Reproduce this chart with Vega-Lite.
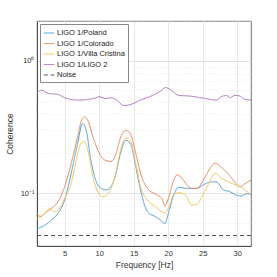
{
  "$schema": "https://vega.github.io/schema/vega-lite/v6.json",
  "autosize": {"type": "none"},
  "width": 214,
  "height": 225,
  "padding": {"left": 37, "top": 21, "right": 26, "bottom": 31},
  "background": "white",
  "config": {
    "view": {"stroke": "#4d4d4d", "strokeWidth": 0.8},
    "font": "Liberation Sans"
  },
  "data": {
    "values": [
      {"s": "LIGO 1/Poland", "f": 1.0, "v": 0.054},
      {"s": "LIGO 1/Poland", "f": 2.13, "v": 0.0574},
      {"s": "LIGO 1/Poland", "f": 3.08, "v": 0.0627},
      {"s": "LIGO 1/Poland", "f": 4.04, "v": 0.0705},
      {"s": "LIGO 1/Poland", "f": 5.0, "v": 0.089},
      {"s": "LIGO 1/Poland", "f": 5.96, "v": 0.142},
      {"s": "LIGO 1/Poland", "f": 6.9, "v": 0.24},
      {"s": "LIGO 1/Poland", "f": 7.6, "v": 0.336},
      {"s": "LIGO 1/Poland", "f": 8.1, "v": 0.303},
      {"s": "LIGO 1/Poland", "f": 8.8, "v": 0.179},
      {"s": "LIGO 1/Poland", "f": 9.5, "v": 0.126},
      {"s": "LIGO 1/Poland", "f": 10.3, "v": 0.109},
      {"s": "LIGO 1/Poland", "f": 11.0, "v": 0.106},
      {"s": "LIGO 1/Poland", "f": 11.7, "v": 0.112},
      {"s": "LIGO 1/Poland", "f": 12.4, "v": 0.138},
      {"s": "LIGO 1/Poland", "f": 13.1, "v": 0.201},
      {"s": "LIGO 1/Poland", "f": 13.9, "v": 0.251},
      {"s": "LIGO 1/Poland", "f": 14.6, "v": 0.233},
      {"s": "LIGO 1/Poland", "f": 15.3, "v": 0.159},
      {"s": "LIGO 1/Poland", "f": 16.0, "v": 0.106},
      {"s": "LIGO 1/Poland", "f": 17.0, "v": 0.0725},
      {"s": "LIGO 1/Poland", "f": 18.2, "v": 0.0664},
      {"s": "LIGO 1/Poland", "f": 18.9, "v": 0.0627},
      {"s": "LIGO 1/Poland", "f": 19.5, "v": 0.0591},
      {"s": "LIGO 1/Poland", "f": 20.1, "v": 0.0725},
      {"s": "LIGO 1/Poland", "f": 20.8, "v": 0.097},
      {"s": "LIGO 1/Poland", "f": 21.5, "v": 0.111},
      {"s": "LIGO 1/Poland", "f": 22.7, "v": 0.109},
      {"s": "LIGO 1/Poland", "f": 24.2, "v": 0.109},
      {"s": "LIGO 1/Poland", "f": 25.1, "v": 0.116},
      {"s": "LIGO 1/Poland", "f": 26.3, "v": 0.122},
      {"s": "LIGO 1/Poland", "f": 27.0, "v": 0.122},
      {"s": "LIGO 1/Poland", "f": 28.0, "v": 0.106},
      {"s": "LIGO 1/Poland", "f": 28.9, "v": 0.103},
      {"s": "LIGO 1/Poland", "f": 29.9, "v": 0.097},
      {"s": "LIGO 1/Poland", "f": 30.6, "v": 0.0955},
      {"s": "LIGO 1/Poland", "f": 31.3, "v": 0.099},
      {"s": "LIGO 1/Poland", "f": 32.0, "v": 0.099},

      {"s": "LIGO 1/Colorado", "f": 1.0, "v": 0.0705},
      {"s": "LIGO 1/Colorado", "f": 1.55, "v": 0.0664},
      {"s": "LIGO 1/Colorado", "f": 2.13, "v": 0.0705},
      {"s": "LIGO 1/Colorado", "f": 3.08, "v": 0.0769},
      {"s": "LIGO 1/Colorado", "f": 4.04, "v": 0.0863},
      {"s": "LIGO 1/Colorado", "f": 5.0, "v": 0.112},
      {"s": "LIGO 1/Colorado", "f": 5.96, "v": 0.169},
      {"s": "LIGO 1/Colorado", "f": 6.9, "v": 0.269},
      {"s": "LIGO 1/Colorado", "f": 7.4, "v": 0.35},
      {"s": "LIGO 1/Colorado", "f": 7.87, "v": 0.378},
      {"s": "LIGO 1/Colorado", "f": 8.35, "v": 0.356},
      {"s": "LIGO 1/Colorado", "f": 9.07, "v": 0.269},
      {"s": "LIGO 1/Colorado", "f": 9.8, "v": 0.213},
      {"s": "LIGO 1/Colorado", "f": 10.75, "v": 0.179},
      {"s": "LIGO 1/Colorado", "f": 11.7, "v": 0.174},
      {"s": "LIGO 1/Colorado", "f": 12.4, "v": 0.195},
      {"s": "LIGO 1/Colorado", "f": 13.1, "v": 0.262},
      {"s": "LIGO 1/Colorado", "f": 13.9, "v": 0.299},
      {"s": "LIGO 1/Colorado", "f": 14.6, "v": 0.277},
      {"s": "LIGO 1/Colorado", "f": 15.3, "v": 0.201},
      {"s": "LIGO 1/Colorado", "f": 16.0, "v": 0.142},
      {"s": "LIGO 1/Colorado", "f": 17.0, "v": 0.109},
      {"s": "LIGO 1/Colorado", "f": 18.4, "v": 0.097},
      {"s": "LIGO 1/Colorado", "f": 19.1, "v": 0.0916},
      {"s": "LIGO 1/Colorado", "f": 19.5, "v": 0.08},
      {"s": "LIGO 1/Colorado", "f": 20.1, "v": 0.094},
      {"s": "LIGO 1/Colorado", "f": 20.8, "v": 0.126},
      {"s": "LIGO 1/Colorado", "f": 21.3, "v": 0.138},
      {"s": "LIGO 1/Colorado", "f": 22.0, "v": 0.13},
      {"s": "LIGO 1/Colorado", "f": 22.7, "v": 0.116},
      {"s": "LIGO 1/Colorado", "f": 23.4, "v": 0.109},
      {"s": "LIGO 1/Colorado", "f": 24.2, "v": 0.109},
      {"s": "LIGO 1/Colorado", "f": 25.1, "v": 0.126},
      {"s": "LIGO 1/Colorado", "f": 26.1, "v": 0.155},
      {"s": "LIGO 1/Colorado", "f": 26.8, "v": 0.169},
      {"s": "LIGO 1/Colorado", "f": 27.7, "v": 0.157},
      {"s": "LIGO 1/Colorado", "f": 28.7, "v": 0.14},
      {"s": "LIGO 1/Colorado", "f": 29.4, "v": 0.126},
      {"s": "LIGO 1/Colorado", "f": 30.4, "v": 0.112},
      {"s": "LIGO 1/Colorado", "f": 31.1, "v": 0.118},
      {"s": "LIGO 1/Colorado", "f": 32.0, "v": 0.126},

      {"s": "LIGO 1/Villa Cristina", "f": 1.0, "v": 0.0645},
      {"s": "LIGO 1/Villa Cristina", "f": 2.13, "v": 0.0705},
      {"s": "LIGO 1/Villa Cristina", "f": 2.84, "v": 0.0769},
      {"s": "LIGO 1/Villa Cristina", "f": 3.56, "v": 0.0725},
      {"s": "LIGO 1/Villa Cristina", "f": 4.28, "v": 0.0769},
      {"s": "LIGO 1/Villa Cristina", "f": 5.0, "v": 0.0916},
      {"s": "LIGO 1/Villa Cristina", "f": 5.96, "v": 0.119},
      {"s": "LIGO 1/Villa Cristina", "f": 6.7, "v": 0.179},
      {"s": "LIGO 1/Villa Cristina", "f": 7.4, "v": 0.24},
      {"s": "LIGO 1/Villa Cristina", "f": 7.87, "v": 0.247},
      {"s": "LIGO 1/Villa Cristina", "f": 8.35, "v": 0.213},
      {"s": "LIGO 1/Villa Cristina", "f": 9.07, "v": 0.134},
      {"s": "LIGO 1/Villa Cristina", "f": 9.8, "v": 0.103},
      {"s": "LIGO 1/Villa Cristina", "f": 10.5, "v": 0.094},
      {"s": "LIGO 1/Villa Cristina", "f": 11.5, "v": 0.103},
      {"s": "LIGO 1/Villa Cristina", "f": 12.4, "v": 0.142},
      {"s": "LIGO 1/Villa Cristina", "f": 13.1, "v": 0.213},
      {"s": "LIGO 1/Villa Cristina", "f": 13.9, "v": 0.262},
      {"s": "LIGO 1/Villa Cristina", "f": 14.6, "v": 0.247},
      {"s": "LIGO 1/Villa Cristina", "f": 15.3, "v": 0.169},
      {"s": "LIGO 1/Villa Cristina", "f": 16.0, "v": 0.112},
      {"s": "LIGO 1/Villa Cristina", "f": 17.0, "v": 0.089},
      {"s": "LIGO 1/Villa Cristina", "f": 18.2, "v": 0.079},
      {"s": "LIGO 1/Villa Cristina", "f": 19.1, "v": 0.0725},
      {"s": "LIGO 1/Villa Cristina", "f": 19.5, "v": 0.071},
      {"s": "LIGO 1/Villa Cristina", "f": 20.1, "v": 0.079},
      {"s": "LIGO 1/Villa Cristina", "f": 20.8, "v": 0.097},
      {"s": "LIGO 1/Villa Cristina", "f": 21.5, "v": 0.101},
      {"s": "LIGO 1/Villa Cristina", "f": 22.5, "v": 0.097},
      {"s": "LIGO 1/Villa Cristina", "f": 23.4, "v": 0.0815},
      {"s": "LIGO 1/Villa Cristina", "f": 24.2, "v": 0.083},
      {"s": "LIGO 1/Villa Cristina", "f": 24.9, "v": 0.094},
      {"s": "LIGO 1/Villa Cristina", "f": 25.9, "v": 0.119},
      {"s": "LIGO 1/Villa Cristina", "f": 26.8, "v": 0.142},
      {"s": "LIGO 1/Villa Cristina", "f": 27.7, "v": 0.13},
      {"s": "LIGO 1/Villa Cristina", "f": 28.7, "v": 0.122},
      {"s": "LIGO 1/Villa Cristina", "f": 29.7, "v": 0.116},
      {"s": "LIGO 1/Villa Cristina", "f": 30.6, "v": 0.111},
      {"s": "LIGO 1/Villa Cristina", "f": 32.0, "v": 0.097},

      {"s": "LIGO 1/LIGO 2", "f": 1.0, "v": 0.575},
      {"s": "LIGO 1/LIGO 2", "f": 1.65, "v": 0.6},
      {"s": "LIGO 1/LIGO 2", "f": 2.6, "v": 0.569},
      {"s": "LIGO 1/LIGO 2", "f": 4.04, "v": 0.558},
      {"s": "LIGO 1/LIGO 2", "f": 5.0, "v": 0.527},
      {"s": "LIGO 1/LIGO 2", "f": 6.9, "v": 0.506},
      {"s": "LIGO 1/LIGO 2", "f": 9.3, "v": 0.521},
      {"s": "LIGO 1/LIGO 2", "f": 10.0, "v": 0.536},
      {"s": "LIGO 1/LIGO 2", "f": 11.0, "v": 0.518},
      {"s": "LIGO 1/LIGO 2", "f": 11.7, "v": 0.527},
      {"s": "LIGO 1/LIGO 2", "f": 12.4, "v": 0.512},
      {"s": "LIGO 1/LIGO 2", "f": 13.6, "v": 0.46},
      {"s": "LIGO 1/LIGO 2", "f": 14.6, "v": 0.469},
      {"s": "LIGO 1/LIGO 2", "f": 16.0, "v": 0.506},
      {"s": "LIGO 1/LIGO 2", "f": 17.5, "v": 0.542},
      {"s": "LIGO 1/LIGO 2", "f": 18.9, "v": 0.591},
      {"s": "LIGO 1/LIGO 2", "f": 19.6, "v": 0.628},
      {"s": "LIGO 1/LIGO 2", "f": 20.3, "v": 0.609},
      {"s": "LIGO 1/LIGO 2", "f": 21.5, "v": 0.549},
      {"s": "LIGO 1/LIGO 2", "f": 23.2, "v": 0.542},
      {"s": "LIGO 1/LIGO 2", "f": 25.1, "v": 0.523},
      {"s": "LIGO 1/LIGO 2", "f": 27.0, "v": 0.506},
      {"s": "LIGO 1/LIGO 2", "f": 27.7, "v": 0.536},
      {"s": "LIGO 1/LIGO 2", "f": 28.5, "v": 0.549},
      {"s": "LIGO 1/LIGO 2", "f": 28.9, "v": 0.527},
      {"s": "LIGO 1/LIGO 2", "f": 29.7, "v": 0.549},
      {"s": "LIGO 1/LIGO 2", "f": 30.4, "v": 0.542},
      {"s": "LIGO 1/LIGO 2", "f": 31.1, "v": 0.512},
      {"s": "LIGO 1/LIGO 2", "f": 32.0, "v": 0.506},

      {"s": "Noise", "f": 1.0, "v": 0.048},
      {"s": "Noise", "f": 32.0, "v": 0.048}
    ]
  },
  "mark": {"type": "line", "strokeWidth": 1, "clip": true, "interpolate": "monotone"},
  "encoding": {
    "x": {
      "field": "f", "type": "quantitative",
      "scale": {"domain": [1, 32], "nice": false, "zero": false},
      "axis": {
        "title": "Frequency [Hz]", "titleFontSize": 8.5, "titleFontWeight": "normal", "titleColor": "#333",
        "titlePadding": 4,
        "values": [5, 10, 15, 20, 25, 30],
        "labelFontSize": 7.5, "labelColor": "#333", "labelPadding": 3,
        "ticks": false, "domainColor": "#4d4d4d",
        "grid": true, "gridColor": "#e3e3e3", "gridWidth": 0.8
      }
    },
    "y": {
      "field": "v", "type": "quantitative",
      "scale": {"type": "log", "domain": [0.04, 2], "nice": false},
      "axis": {
        "title": "Coherence", "titleFontSize": 8.5, "titleFontWeight": "normal", "titleColor": "#333",
        "titlePadding": 6,
        "values": [0.04, 0.05, 0.06, 0.07, 0.08, 0.09, 0.1, 0.2, 0.3, 0.4, 0.5, 0.6, 0.7, 0.8, 0.9, 1, 2],
        "labelExpr": "datum.value == 1 ? '10⁰' : (datum.value == 0.1 ? '10⁻¹' : '')",
        "labelFontSize": 7.5, "labelColor": "#333", "labelPadding": 3,
        "ticks": false, "domainColor": "#4d4d4d",
        "grid": true,
        "gridColor": {"condition": {"test": "datum.value == 1 || datum.value == 0.1", "value": "#dcdcdc"}, "value": "#e6e6e6"},
        "gridDash": {"condition": {"test": "datum.value == 1 || datum.value == 0.1", "value": []}, "value": [1, 2]},
        "gridWidth": 0.8
      }
    },
    "color": {
      "field": "s", "type": "nominal",
      "scale": {
        "domain": ["LIGO 1/Poland", "LIGO 1/Colorado", "LIGO 1/Villa Cristina", "LIGO 1/LIGO 2", "Noise"],
        "range": ["#4f9fd8", "#e8875c", "#f5c555", "#b173c2", "#555555"]
      },
      "legend": {
        "title": null, "orient": "none", "legendX": 3, "legendY": 3,
        "labelFontSize": 7.5, "labelColor": "#222", "labelOffset": 2,
        "symbolType": "stroke", "symbolSize": 110, "symbolStrokeWidth": 1,
        "rowPadding": 0.5, "padding": 3,
        "strokeColor": "#888", "fillColor": "white"
      }
    },
    "strokeDash": {
      "field": "s", "type": "nominal",
      "scale": {
        "domain": ["LIGO 1/Poland", "LIGO 1/Colorado", "LIGO 1/Villa Cristina", "LIGO 1/LIGO 2", "Noise"],
        "range": [[1, 0], [1, 0], [1, 0], [1, 0], [4, 3]]
      },
      "legend": null
    }
  }
}
